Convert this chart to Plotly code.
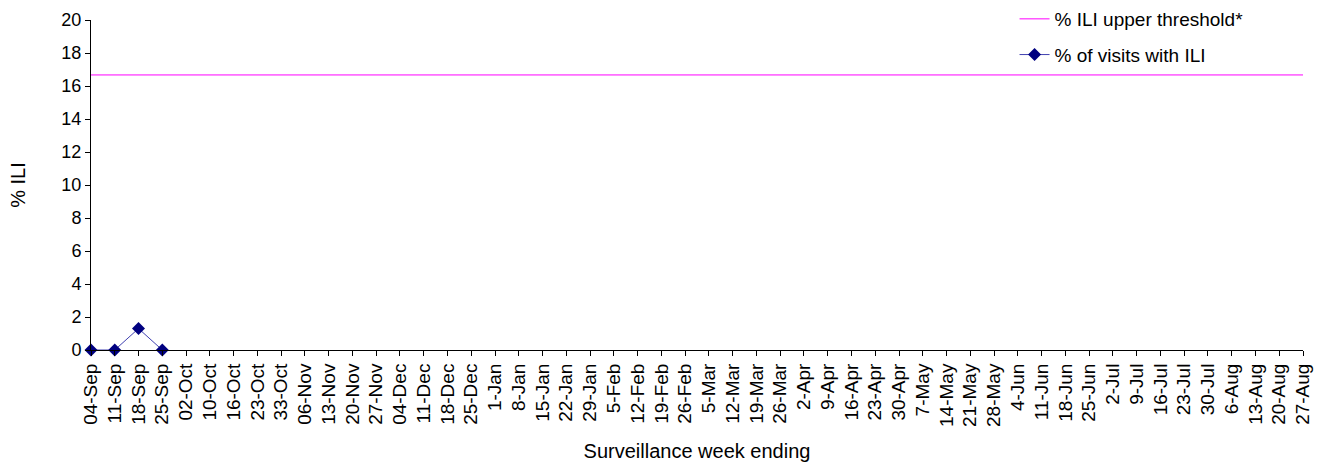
import plotly.graph_objects as go

weeks = ["04-Sep", "11-Sep", "18-Sep", "25-Sep", "02-Oct", "10-Oct", "16-Oct", "23-Oct", "33-Oct",
         "06-Nov", "13-Nov", "20-Nov", "27-Nov", "04-Dec", "11-Dec", "18-Dec", "25-Dec",
         "1-Jan", "8-Jan", "15-Jan", "22-Jan", "29-Jan", "5-Feb", "12-Feb", "19-Feb", "26-Feb",
         "5-Mar", "12-Mar", "19-Mar", "26-Mar", "2-Apr", "9-Apr", "16-Apr", "23-Apr", "30-Apr",
         "7-May", "14-May", "21-May", "28-May", "4-Jun", "11-Jun", "18-Jun", "25-Jun",
         "2-Jul", "9-Jul", "16-Jul", "23-Jul", "30-Jul", "6-Aug", "13-Aug", "20-Aug", "27-Aug"]

ili_visits = [0, 0, 1.3, 0] + [None] * (len(weeks) - 4)
threshold = [16.67] * len(weeks)

FONT = "Liberation Sans, Arial, sans-serif"

fig = go.Figure()
fig.add_trace(go.Scatter(
    x=weeks, y=threshold, mode="lines", name="% ILI upper threshold*",
    line=dict(color="#FF00FF", width=1), legendgroup="a", cliponaxis=False))
fig.add_trace(go.Scatter(
    x=weeks, y=ili_visits, mode="lines+markers", name="% of visits with ILI",
    line=dict(color="#4040B0", width=1),
    marker=dict(symbol="diamond", size=10, color="#000080"),
    legendgroup="b", cliponaxis=False))

fig.update_layout(
    width=1323, height=463,
    margin=dict(l=91, r=20, t=20, b=113, autoexpand=False),
    plot_bgcolor="white", paper_bgcolor="white",
    font=dict(family=FONT, size=18, color="black"),
    showlegend=True,
    legend=dict(x=0.762, y=1.0, xanchor="left", yanchor="top", yref="container",
                bgcolor="rgba(0,0,0,0)", traceorder="grouped", tracegroupgap=8,
                font=dict(size=19, family=FONT)),
    xaxis=dict(type="category", categoryorder="array", categoryarray=weeks,
               range=[0, len(weeks) - 1], dtick=1, showline=True, linecolor="black", linewidth=1,
               ticks="outside", ticklen=5, tickcolor="black", tickangle=-90,
               showgrid=False, zeroline=False, tickfont=dict(size=19),
               title=dict(text="Surveillance week ending", font=dict(size=20), standoff=18)),
    yaxis=dict(range=[0, 20], dtick=2, showline=True, linecolor="black", linewidth=1,
               ticks="outside", ticklen=5, tickcolor="black", showgrid=False, zeroline=False,
               tickfont=dict(size=18),
               title=dict(text="% ILI", font=dict(size=20), standoff=30)),
)

fig.write_html("out.html", config={"displayModeBar": False},
               post_script="document.body.style.margin='0';")
